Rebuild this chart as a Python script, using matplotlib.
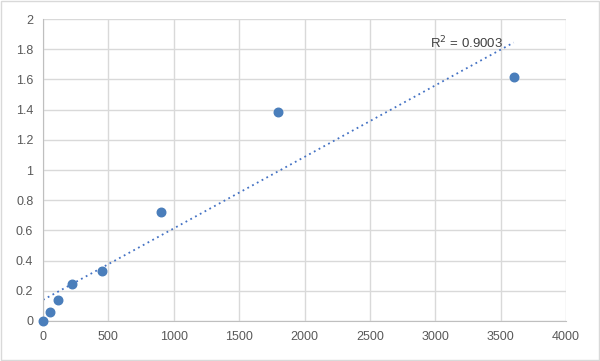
import matplotlib.pyplot as plt
import numpy as np

# concentration vs. OD values
conc = np.array([0, 56.25, 112.5, 225, 450, 900, 1800, 3600])
od = np.array([0, 0.06, 0.14, 0.245, 0.33, 0.725, 1.385, 1.615])

x_ticks = [0, 500, 1000, 1500, 2000, 2500, 3000, 3500, 4000]
y_ticks = [0, 0.2, 0.4, 0.6, 0.8, 1, 1.2, 1.4, 1.6, 1.8, 2]
y_labels = ['0', '0.2', '0.4', '0.6', '0.8', '1', '1.2', '1.4', '1.6', '1.8', '2']
r2_label = 'R$^2$ = 0.9003'

plt.rcParams['font.family'] = ['Liberation Sans', 'DejaVu Sans']

fig = plt.figure(figsize=(6, 3.61), dpi=100)
ax = fig.add_axes([0.0717, 0.111, 0.8716, 0.836])

# linear trendline over the data range
slope, intercept = np.polyfit(conc, od, 1)
xt = np.linspace(0, conc.max(), 100)
ax.plot(xt, slope * xt + intercept, linestyle=(0, (1, 2)), color='#4472c4', lw=1.3, zorder=2)

ax.scatter(conc, od, s=38, color='#4a7ebb', zorder=3, clip_on=False)

ax.text(2960, 1.845, r2_label, fontsize=9.5, color='#404040', va='center')

ax.set_xlim(0, 4000)
ax.set_ylim(0, 2)
ax.set_xticks(x_ticks)
ax.set_yticks(y_ticks)
ax.set_yticklabels(y_labels)
ax.grid(True, color='#d9d9d9', lw=1)
ax.set_axisbelow(True)
for s in ['top', 'right']:
    ax.spines[s].set_visible(False)
for s in ['left', 'bottom']:
    ax.spines[s].set_color('#bfbfbf')
ax.tick_params(length=0, labelsize=9, colors='#595959', pad=7)

# light border around the whole chart
fig.patches.append(plt.Rectangle((0.002, 0.003), 0.996, 0.994, transform=fig.transFigure,
                                 fill=False, edgecolor='#d9d9d9', lw=1))

fig.savefig('out.png', dpi=100)
